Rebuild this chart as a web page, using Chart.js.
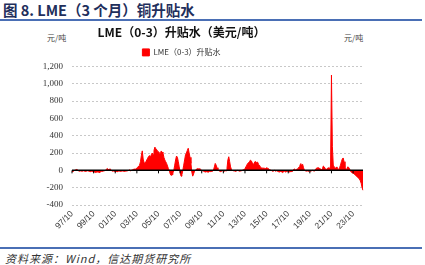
<!DOCTYPE html>
<html lang="zh">
<head>
    <meta charset="UTF-8">
    <title>LME（3个月）铜升贴水</title>
    <script src="https://cdn.jsdelivr.net/npm/chart.js"></script>
    <style>
        body {
            margin: 0;
            width: 425px;
            height: 265px;
            overflow: hidden;
            background: #fff;
            font-family: "Noto Sans CJK SC", sans-serif;
            position: relative;
        }
        #head {
            position: absolute;
            left: 3px;
            top: -1px;
            font-size: 14.5px;
            font-weight: bold;
            color: #1f2f5c;
        }
        #line-top, #line-bottom {
            position: absolute;
            left: 0;
            width: 422px;
            height: 2px;
            background: #4a6fb5;
        }
        #line-top { top: 19px; }
        #line-bottom { top: 247px; }
        #foot {
            position: absolute;
            left: 5px;
            top: 250px;
            font-size: 11px;
            font-style: italic;
            letter-spacing: 1px;
            color: #333;
        }
        .unit {
            position: absolute;
            top: 32px;
            font-size: 8px;
            color: #444;
        }
        #box {
            position: absolute;
            left: 0;
            top: 21px;
            width: 425px;
            height: 224px;
        }
    </style>
</head>
<body>
    <div id="head">图 8. LME（3 个月）铜升贴水</div>
    <div id="line-top"></div>
    <div class="unit" style="left:47px">元/吨</div>
    <div class="unit" style="left:344px">元/吨</div>
    <div id="box"><canvas id="chart"></canvas></div>
    <div id="line-bottom"></div>
    <div id="foot">资料来源：Wind，信达期货研究所</div>

    <script>
        // 月度数据，从 1997/10 开始，每行 10 月 ~ 次年 9 月
        const startYear = 1997;
        const startMonth = 10;
        const premium = [
            -10, -15, -5, 0, 5, 10, 8, -5, -10, -8, -5, -10,          // 97/10
            -8, -5, -10, -12, -10, -5, -8, -10, -15, -12, -10, -15,   // 98/10
            -18, -20, -25, -22, -20, -18, -25, -20, -15, -10, -12, -8,// 99/10
            -5, 0, 10, 20, 15, 5, 18, 10, -5, -10, -8, -12,           // 00/10
            -10, -12, -15, -10, -8, -10, -12, -10, -8, -10, -12, -10, // 01/10
            -8, -5, -5, 0, 5, -5, 0, 5, 10, 15, 12, 20,               // 02/10
            25, 35, 50, 60, 100, 170, 225, 130, 90, 70, 100, 120,     // 03/10
            140, 160, 170, 150, 180, 200, 180, 230, 268, 250, 240, 220, // 04/10
            216, 200, 190, 224, 210, 200, 150, 120, 100, 80, 50, 20,  // 05/10
            0, -40, -59, -50, -30, 0, 60, 120, 165, 150, 100, 40,     // 06/10
            -20, -67, -50, 0, 60, 120, 180, 200, 230, 255, 200, 150,  // 07/10
            80, -20, -67, -40, -10, 0, 12, 20, 15, 20, 10, 5,         // 08/10
            0, -5, -10, -15, -20, -15, -18, -20, -15, -10, -15, -12,  // 09/10
            -10, 0, 40, 80, 60, 30, 10, -5, -10, -15, -10, -5,        // 10/10
            -5, -10, -5, -5, 20, 120, 157, 100, 40, 10, 0, -5,        // 11/10
            -5, -10, -8, -5, 0, -5, -10, -8, -5, 0, 5, 10,            // 12/10
            20, 40, 60, 80, 90, 100, 118, 110, 90, 70, 80, 100,       // 13/10
            100, 90, 95, 70, 60, 40, 30, 25, 30, 20, 25, 20,          // 14/10
            30, 25, 20, 10, 5, 0, -5, -10, -5, 0, -10, -5,            // 15/10
            -10, -15, -20, -15, -10, -20, -25, -15, -10, -20, -15, -10, // 16/10
            -15, -20, -15, -10, -15, -10, 10, 15, 5, 10, 15, 20,      // 17/10
            40, 60, 78, 50, 70, 30, 0, -5, -10, -5, -10, -5,          // 18/10
            -5, -10, -5, 0, -5, -10, 10, 20, 30, 25, 30, 20,          // 19/10
            15, 10, 20, 50, 40, 20, 10, 20, 25, 30, 20, 50,           // 20/10
            1100, 277, 60, 40, 30, 20, 40, 20, 10, 30, 60, 100,       // 21/10
            130, 143, 100, 30, 20, 10, 40, 35, 20, -10, -20, -30,     // 22/10
            -30, -40, -50, -60, -70, -80, -90, -100, -120, -150, -200, -230 // 23/10
        ];
        const tickLabels = ['97/10', '99/10', '01/10', '03/10', '05/10', '07/10', '09/10',
            '11/10', '13/10', '15/10', '17/10', '19/10', '21/10', '23/10'];
        const yTicks = [-400, -200, 0, 200, 400, 600, 800, 1000, 1200];

        const months = premium.map((v, i) => {
            const m = (startMonth - 1 + i) % 12 + 1;
            const y = (startYear + Math.floor((startMonth - 1 + i) / 12)) % 100;
            return String(y).padStart(2, '0') + '/' + String(m).padStart(2, '0');
        });

        // 0 轴黑线和小刻度
        const zeroLine = {
            id: 'zeroLine',
            afterDatasetsDraw(chart) {
                const { ctx, chartArea, scales } = chart;
                const y0 = scales.y.getPixelForValue(0);
                ctx.save();
                ctx.strokeStyle = '#000';
                ctx.lineWidth = 1.5;
                ctx.beginPath();
                ctx.moveTo(chartArea.left, y0);
                ctx.lineTo(chartArea.right, y0);
                ctx.stroke();
                ctx.lineWidth = 1;
                scales.x.ticks.forEach((t, i) => {
                    const x = scales.x.getPixelForTick(i);
                    ctx.beginPath();
                    ctx.moveTo(x, y0);
                    ctx.lineTo(x, y0 + 3);
                    ctx.stroke();
                });
                ctx.restore();
            }
        };

        new Chart(document.getElementById('chart'), {
            type: 'line',
            data: {
                labels: months,
                datasets: [{
                    label: 'LME（0-3）升贴水',
                    data: premium,
                    borderColor: '#ff0000',
                    backgroundColor: '#ff0000',
                    borderWidth: 1,
                    pointRadius: 0,
                    fill: 'origin'
                }]
            },
            options: {
                responsive: true,
                maintainAspectRatio: false,
                animation: false,
                layout: { padding: { left: 0, right: 62, top: 0, bottom: 0 } },
                plugins: {
                    title: {
                        display: true,
                        text: 'LME（0-3）升贴水（美元/吨）',
                        color: '#111',
                        font: { family: '"Noto Sans CJK SC"', size: 12, weight: 'bold' },
                        padding: { top: 4, bottom: 2 }
                    },
                    legend: {
                        labels: {
                            boxWidth: 7,
                            boxHeight: 7,
                            padding: 7,
                            color: '#333',
                            font: { family: '"Noto Sans CJK SC"', size: 8 }
                        }
                    },
                    tooltip: { enabled: false }
                },
                scales: {
                    x: {
                        afterBuildTicks: s => {
                            s.ticks = s.ticks.filter(t => tickLabels.includes(months[t.value]));
                        },
                        afterFit: s => { s.height = 40; },
                        grid: { display: false, drawTicks: false },
                        border: { display: false },
                        ticks: {
                            autoSkip: false,
                            maxRotation: 45,
                            minRotation: 45,
                            padding: 4,
                            color: '#333',
                            font: { family: '"Liberation Sans"', size: 8.5 }
                        }
                    },
                    y: {
                        min: -400,
                        max: 1200,
                        afterBuildTicks: s => { s.ticks = yTicks.map(v => ({ value: v })); },
                        afterFit: s => { s.width = 72; },
                        grid: {
                            drawTicks: false,
                            color: c => c.tick.value === 0 ? 'rgba(0,0,0,0)' : '#c8c8c8',
                            lineWidth: 1
                        },
                        border: { display: false, dash: [2, 2] },
                        ticks: {
                            padding: 9,
                            color: '#333',
                            font: { family: '"Liberation Serif"', size: 9 }
                        }
                    }
                }
            },
            plugins: [zeroLine]
        });
    </script>
</body>
</html>
